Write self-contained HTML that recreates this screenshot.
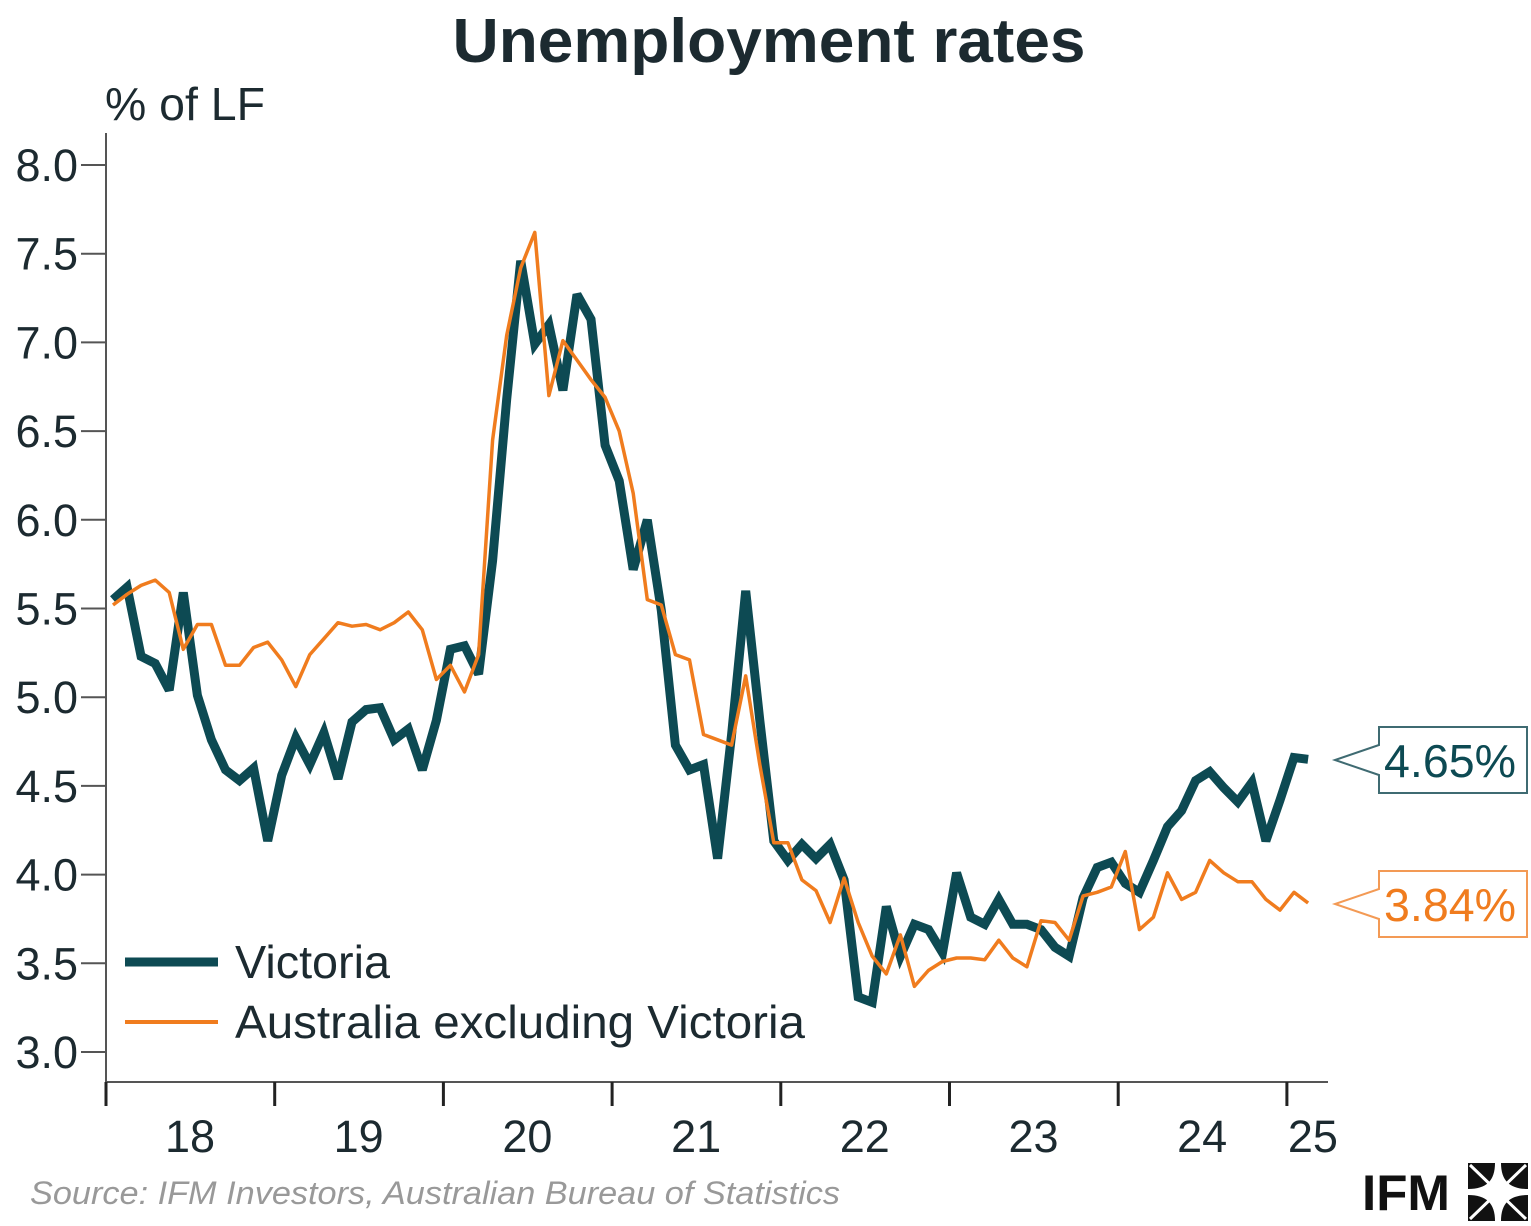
<!DOCTYPE html>
<html><head><meta charset="utf-8"><title>Unemployment rates</title>
<style>
html,body{margin:0;padding:0;background:#fff;}
svg{display:block;font-family:"Liberation Sans",Arial,sans-serif;}
</style></head>
<body>
<svg id="chart" width="1531" height="1226" viewBox="0 0 1531 1226" xmlns="http://www.w3.org/2000/svg">
  <text x="769" y="62" text-anchor="middle" font-size="62" font-weight="bold" fill="#1c2a30" textLength="633" lengthAdjust="spacingAndGlyphs">Unemployment rates</text>
  <text x="105" y="120" font-size="46" fill="#1c2a30" textLength="160" lengthAdjust="spacingAndGlyphs">% of LF</text>
  <g id="yaxis"></g>
  <g id="xaxis"></g>
  <g id="series"></g>
  <g>
    <line x1="125" y1="962" x2="218" y2="962" stroke="#0d4a53" stroke-width="9"/>
    <text x="235" y="978" font-size="46" fill="#1c2a30" textLength="155" lengthAdjust="spacingAndGlyphs">Victoria</text>
    <line x1="125" y1="1022" x2="218" y2="1022" stroke="#f07c1e" stroke-width="4"/>
    <text x="235" y="1038" font-size="46" fill="#1c2a30" textLength="570" lengthAdjust="spacingAndGlyphs">Australia excluding Victoria</text>
  </g>
  <g>
    <path d="M1379,727 H1527 V793 H1379 V775 L1335,760 L1379,745 Z" fill="#fff" stroke="#3f6b72" stroke-width="2"/>
    <text x="1450" y="777" text-anchor="middle" font-size="46" fill="#0d4a53" textLength="132" lengthAdjust="spacingAndGlyphs">4.65%</text>
  </g>
  <g>
    <path d="M1379,871 H1527 V937 H1379 V919 L1335,904 L1379,889 Z" fill="#fff" stroke="#f39a55" stroke-width="2"/>
    <text x="1450" y="921" text-anchor="middle" font-size="46" fill="#f07c1e" textLength="132" lengthAdjust="spacingAndGlyphs">3.84%</text>
  </g>
  <text x="30" y="1204" font-size="32" font-style="italic" fill="#999" textLength="810" lengthAdjust="spacingAndGlyphs">Source: IFM Investors, Australian Bureau of Statistics</text>
  <g>
    <text x="1362" y="1210" font-size="50" font-weight="bold" fill="#111" textLength="88" lengthAdjust="spacingAndGlyphs">IFM</text>
    <rect x="1468" y="1163" width="60" height="58" fill="#111"/>
    <path d="M1498,1163 Q1498,1192 1528,1192 Q1498,1192 1498,1221 Q1498,1192 1468,1192 Q1498,1192 1498,1163 Z" fill="#fff" stroke="#fff" stroke-width="6"/>
    <path d="M1470,1165 L1526,1219 M1526,1165 L1470,1219" stroke="#fff" stroke-width="3"/>
  </g>
</svg>
<script>
const yTicks = [3.0, 3.5, 4.0, 4.5, 5.0, 5.5, 6.0, 6.5, 7.0, 7.5, 8.0];
const yearLabels = ["18", "19", "20", "21", "22", "23", "24", "25"];
const victoria = [5.55,5.62,5.23,5.19,5.04,5.59,5.01,4.76,4.59,4.53,
4.60,4.19,4.56,4.77,4.62,4.80,4.54,4.86,4.93,4.94,
4.76,4.82,4.59,4.87,5.27,5.29,5.13,5.77,6.68,7.46,
6.99,7.10,6.73,7.27,7.13,6.42,6.22,5.72,6.00,5.49,
4.73,4.59,4.62,4.09,4.79,5.60,4.87,4.19,4.08,4.17,
4.09,4.17,3.97,3.31,3.28,3.82,3.54,3.72,3.69,3.56,
4.01,3.76,3.72,3.86,3.72,3.72,3.69,3.59,3.54,3.87,
4.04,4.07,3.95,3.90,4.08,4.27,4.36,4.53,4.58,4.49,
4.41,4.52,4.19,4.42,4.66,4.65];
const australiaExVic = [5.52,5.58,5.63,5.66,5.59,5.27,5.41,5.41,5.18,5.18,
5.28,5.31,5.21,5.06,5.24,5.33,5.42,5.40,5.41,5.38,
5.42,5.48,5.38,5.10,5.18,5.03,5.24,6.45,7.04,7.42,
7.62,6.70,7.01,6.90,6.79,6.69,6.50,6.15,5.55,5.52,
5.24,5.21,4.79,4.76,4.73,5.12,4.62,4.18,4.18,3.97,
3.91,3.73,3.98,3.73,3.54,3.44,3.66,3.37,3.46,3.51,
3.53,3.53,3.52,3.63,3.53,3.48,3.74,3.73,3.63,3.88,
3.90,3.93,4.13,3.69,3.76,4.01,3.86,3.90,4.08,4.01,
3.96,3.96,3.86,3.80,3.90,3.84];

const NS = "http://www.w3.org/2000/svg";
const axisX = 106, axisBottom = 1082, xEnd = 1328;
function yScale(v){ return 165 + (8 - v) * 177.4; }
function xScale(i){ return 113 + i * 14.06; }
function yearX(k){ return 106 + k * 168.7; }
function mk(tag, attrs, parent){ const e = document.createElementNS(NS, tag); for (const k in attrs) e.setAttribute(k, attrs[k]); parent.appendChild(e); return e; }

const yg = document.getElementById("yaxis");
const axL = mk("line", {x1: axisX, y1: 133, x2: axisX, y2: axisBottom, stroke: "#555", "stroke-width": 2}, yg);


yTicks.forEach(v => {
  const t = mk("line", {x1: 81, y1: yScale(v), x2: axisX, y2: yScale(v), stroke: "#555", "stroke-width": 2}, yg);
  
  
  const tx = mk("text", {x: 78, y: yScale(v) + 16, "text-anchor": "end", "font-size": 45, fill: "#1c2a30"}, yg);
  
  
  tx.textContent = v.toFixed(1);
});

const xg = document.getElementById("xaxis");
const axB = mk("line", {x1: axisX, y1: axisBottom, x2: xEnd, y2: axisBottom, stroke: "#555", "stroke-width": 2}, xg);


yearLabels.forEach((lab, k) => {
  const t = mk("line", {x1: yearX(k), y1: axisBottom, x2: yearX(k), y2: 1106, stroke: "#222", "stroke-width": 3}, xg);
  
  
  const cx = k < yearLabels.length - 1 ? yearX(k) + 84 : yearX(k) + 26;
  const tx = mk("text", {x: cx, y: 1152, "text-anchor": "middle", "font-size": 45, fill: "#1c2a30"}, xg);
  
  
  tx.textContent = lab;
});

const sg = document.getElementById("series");
function pts(arr){ return arr.map((v, i) => xScale(i).toFixed(1) + "," + yScale(v).toFixed(1)).join(" "); }
const vic = mk("polyline", {points: pts(victoria), fill: "none", stroke: "#0d4a53", "stroke-width": 9, "stroke-linejoin": "miter", "stroke-miterlimit": 3}, sg);


const aus = mk("polyline", {points: pts(australiaExVic), fill: "none", stroke: "#f07c1e", "stroke-width": 3.5, "stroke-linejoin": "round"}, sg);


</script>
</body></html>
